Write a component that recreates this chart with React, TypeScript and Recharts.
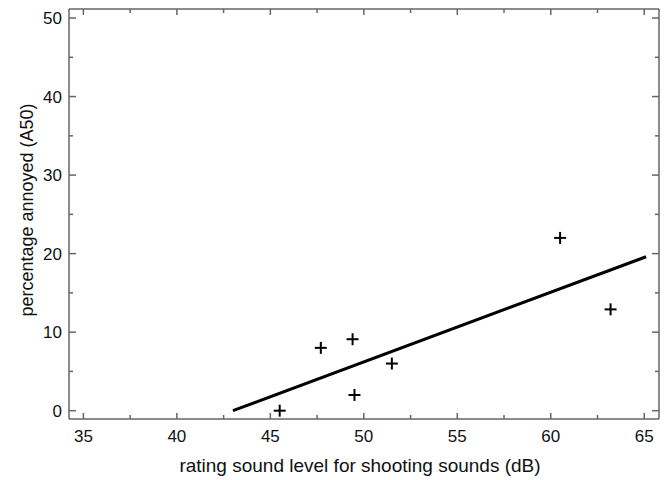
import React from "react";
import {
  ComposedChart,
  XAxis,
  YAxis,
  Line,
  Scatter,
  Label,
} from "recharts";

const pointX = [45.5, 47.7, 49.4, 49.5, 51.5, 60.5, 63.2];
const pointY = [0, 8, 9.1, 2, 6, 22, 12.9];
const fitX = [43, 65.1];
const fitY = [0, 19.6];
const xTicks = [35, 37.5, 40, 42.5, 45, 47.5, 50, 52.5, 55, 57.5, 60, 62.5, 65];
const yTicks = [0, 5, 10, 15, 20, 25, 30, 35, 40, 45, 50];
const xDomain = [34.23, 65.79];
const yDomain = [-1.06, 51.15];
const xTitle = "rating sound level for shooting sounds (dB)";
const yTitle = "percentage annoyed (A50)";

const points = pointX.map((x, i) => ({ x, y: pointY[i] }));
const fitLine = fitX.map((x, i) => ({ x, y: fitY[i] }));

const FONT = "'Liberation Sans', Arial, Helvetica, sans-serif";
const FRAME = "#666";

const isMajorX = (v: number) => Math.abs(v % 5) < 1e-9;
const isMajorY = (v: number) => Math.abs(v % 10) < 1e-9;

const BottomTick = (props: any) => {
  const { x, y, payload } = props;
  const v = payload.value;
  const major = isMajorX(v);
  return (
    <g>
      <line x1={x} x2={x} y1={y} y2={y - (major ? 6 : 4)} stroke={FRAME} strokeWidth={1.5} />
      {major && (
        <text x={x} y={y + 22.7} textAnchor="middle" fontSize={17} fontFamily={FONT} fill="#111">
          {v}
        </text>
      )}
    </g>
  );
};

const TopTick = (props: any) => {
  const { x, y, payload } = props;
  const major = isMajorX(payload.value);
  return <line x1={x} x2={x} y1={y} y2={y + (major ? 6 : 4)} stroke={FRAME} strokeWidth={1.5} />;
};

const LeftTick = (props: any) => {
  const { x, y, payload } = props;
  const v = payload.value;
  const major = isMajorY(v);
  return (
    <g>
      <line x1={x} x2={x + (major ? 7 : 4)} y1={y} y2={y} stroke={FRAME} strokeWidth={1.5} />
      {major && (
        <text x={x - 7} y={y} dy="0.36em" textAnchor="end" fontSize={17} fontFamily={FONT} fill="#111">
          {v}
        </text>
      )}
    </g>
  );
};

const RightTick = (props: any) => {
  const { x, y, payload } = props;
  const major = isMajorY(payload.value);
  return <line x1={x} x2={x - (major ? 7 : 4)} y1={y} y2={y} stroke={FRAME} strokeWidth={1.5} />;
};

const Plus = (props: any) => {
  const { cx, cy } = props;
  const r = 6;
  return (
    <g>
      <line x1={cx - r} x2={cx + r} y1={cy} y2={cy} stroke="#000" strokeWidth={2} />
      <line x1={cx} x2={cx} y1={cy - r} y2={cy + r} stroke="#000" strokeWidth={2} />
    </g>
  );
};

export default function App() {
  return (
    <div style={{ position: "absolute", left: 0, top: 0, background: "#fff" }}>
      <ComposedChart
        width={669}
        height={480}
        margin={{ top: 8, right: 9, bottom: 0, left: 0 }}
      >
        <XAxis
          xAxisId="b"
          dataKey="x"
          type="number"
          orientation="bottom"
          domain={xDomain}
          ticks={xTicks}
          interval={0}
          height={61}
          tickSize={0}
          tickMargin={0}
          tickLine={false}
          tick={<BottomTick />}
          axisLine={{ stroke: FRAME, strokeWidth: 1.5 }}
          allowDataOverflow
        >
          <Label
            value={xTitle}
            position="insideBottom"
            offset={8}
            dx={-4}
            fontSize={19}
            fontFamily={FONT}
            fill="#111"
          />
        </XAxis>
        <XAxis
          xAxisId="t"
          dataKey="x"
          type="number"
          orientation="top"
          domain={xDomain}
          ticks={xTicks}
          interval={0}
          height={1}
          tickSize={0}
          tickMargin={0}
          tickLine={false}
          tick={<TopTick />}
          axisLine={{ stroke: FRAME, strokeWidth: 1.5 }}
          allowDataOverflow
        />
        <YAxis
          yAxisId="l"
          type="number"
          orientation="left"
          domain={yDomain}
          ticks={yTicks}
          interval={0}
          width={69}
          tickSize={0}
          tickMargin={0}
          tickLine={false}
          tick={<LeftTick />}
          axisLine={{ stroke: FRAME, strokeWidth: 1.5 }}
          allowDataOverflow
        >
          <Label
            value={yTitle}
            position="insideLeft"
            angle={-90}
            offset={27}
            dy={-4}
            textAnchor="middle"
            fontSize={18}
            fontFamily={FONT}
            fill="#111"
          />
        </YAxis>
        <YAxis
          yAxisId="r"
          type="number"
          orientation="right"
          domain={yDomain}
          ticks={yTicks}
          interval={0}
          width={1}
          tickSize={0}
          tickMargin={0}
          tickLine={false}
          tick={<RightTick />}
          axisLine={{ stroke: FRAME, strokeWidth: 1.5 }}
          allowDataOverflow
        />
        <Line
          xAxisId="b"
          yAxisId="l"
          data={fitLine}
          dataKey="y"
          type="linear"
          stroke="#000"
          strokeWidth={3}
          dot={false}
          activeDot={false}
          isAnimationActive={false}
        />
        <Scatter
          xAxisId="t"
          yAxisId="r"
          data={points}
          dataKey="y"
          shape={<Plus />}
          isAnimationActive={false}
        />
      </ComposedChart>
    </div>
  );
}
